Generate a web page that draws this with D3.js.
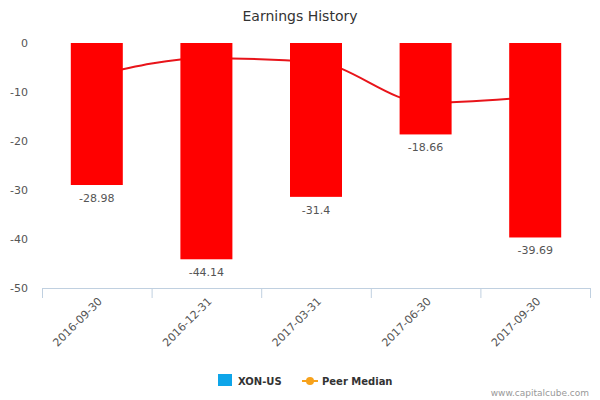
<!DOCTYPE html>
<html>
<head>
<meta charset="utf-8">
<script src="https://cdn.jsdelivr.net/npm/d3@7"></script>
<style>
body { margin: 0; background: #fff; }
text { font-family: "DejaVu Sans", sans-serif; }
</style>
</head>
<body>
<div id="chart"></div>
<script>
var width = 600;
var height = 400;

// data
var categories = ['2016-09-30', '2016-12-31', '2017-03-31', '2017-06-30', '2017-09-30'];
var earnings = [-28.98, -44.14, -31.4, -18.66, -39.69];
var peerMedian = [-6.5, -3.1, -3.9, -12.2, -11.0];
var yTicks = [0, -10, -20, -30, -40, -50];

var margin = {left: 42, right: 590, top: 43, bottom: 288};

var svg = d3.select('#chart')
	.append('svg')
	.attr('width', width)
	.attr('height', height);

var x = d3.scaleBand()
	.domain(categories)
	.range([margin.left, margin.right]);

var y = d3.scaleLinear()
	.domain([-50, 0])
	.range([margin.bottom, margin.top]);

// title
svg.append('text')
	.attr('x', width / 2)
	.attr('y', 21)
	.attr('text-anchor', 'middle')
	.style('font-size', '14px')
	.style('fill', '#333')
	.text('Earnings History');

// y axis labels
svg.selectAll('.ylab')
	.data(yTicks)
	.enter()
	.append('text')
	.attr('x', 28)
	.attr('y', function(d){ return y(d) + 4; })
	.attr('text-anchor', 'end')
	.style('font-size', '11px')
	.style('fill', '#555')
	.text(function(d){ return d; });

// x axis line and ticks
svg.append('line')
	.attr('x1', margin.left).attr('x2', margin.right)
	.attr('y1', margin.bottom + 0.5).attr('y2', margin.bottom + 0.5)
	.attr('stroke', '#c0d0e0');

var tickPos = categories.map(function(c){ return x(c); }).concat([margin.right]);
svg.selectAll('.xtick')
	.data(tickPos)
	.enter()
	.append('line')
	.attr('x1', function(d){ return d + 0.5; })
	.attr('x2', function(d){ return d + 0.5; })
	.attr('y1', margin.bottom)
	.attr('y2', margin.bottom + 10)
	.attr('stroke', '#c0d0e0');

svg.selectAll('.xlab')
	.data(categories)
	.enter()
	.append('text')
	.attr('transform', function(d){
		return 'translate(' + (x(d) + x.bandwidth() / 2 + 6) + ',' + (margin.bottom + 14) + ') rotate(-45)';
	})
	.attr('text-anchor', 'end')
	.style('font-size', '11px')
	.style('fill', '#555')
	.text(function(d){ return d; });

// peer median line
var line = d3.line()
	.x(function(d, i){ return x(categories[i]) + x.bandwidth() / 2; })
	.y(function(d){ return y(d); })
	.curve(d3.curveMonotoneX);

svg.append('path')
	.datum(peerMedian)
	.attr('d', line)
	.attr('fill', 'none')
	.attr('stroke', '#e8141a')
	.attr('stroke-width', 2);

// bars
var barW = 52;
svg.selectAll('rect.bar')
	.data(earnings)
	.enter()
	.append('rect')
	.attr('class', 'bar')
	.attr('x', function(d, i){ return x(categories[i]) + x.bandwidth() / 2 - barW / 2; })
	.attr('y', y(0))
	.attr('width', barW)
	.attr('height', function(d){ return y(d) - y(0); })
	.attr('fill', '#ff0000');

svg.selectAll('.blab')
	.data(earnings)
	.enter()
	.append('text')
	.attr('x', function(d, i){ return x(categories[i]) + x.bandwidth() / 2; })
	.attr('y', function(d){ return y(d) + 17; })
	.attr('text-anchor', 'middle')
	.style('font-size', '11px')
	.style('fill', '#555')
	.text(function(d){ return d; });

// legend
svg.append('rect')
	.attr('x', 218).attr('y', 374)
	.attr('width', 14).attr('height', 12)
	.attr('fill', '#0ea5e9');
svg.append('text')
	.attr('x', 238).attr('y', 385)
	.style('font-size', '10px').style('font-weight', 'bold').style('fill', '#333')
	.text('XON-US');
svg.append('line')
	.attr('x1', 302).attr('x2', 318)
	.attr('y1', 381).attr('y2', 381)
	.attr('stroke', '#f7a21b').attr('stroke-width', 2);
svg.append('circle')
	.attr('cx', 310).attr('cy', 381).attr('r', 4)
	.attr('fill', '#f7a21b');
svg.append('text')
	.attr('x', 322).attr('y', 385)
	.style('font-size', '10px').style('font-weight', 'bold').style('fill', '#333')
	.text('Peer Median');

svg.append('text')
	.attr('x', 589).attr('y', 396)
	.attr('text-anchor', 'end')
	.style('font-size', '9px').style('fill', '#999')
	.text('www.capitalcube.com');
</script>
</body>
</html>
